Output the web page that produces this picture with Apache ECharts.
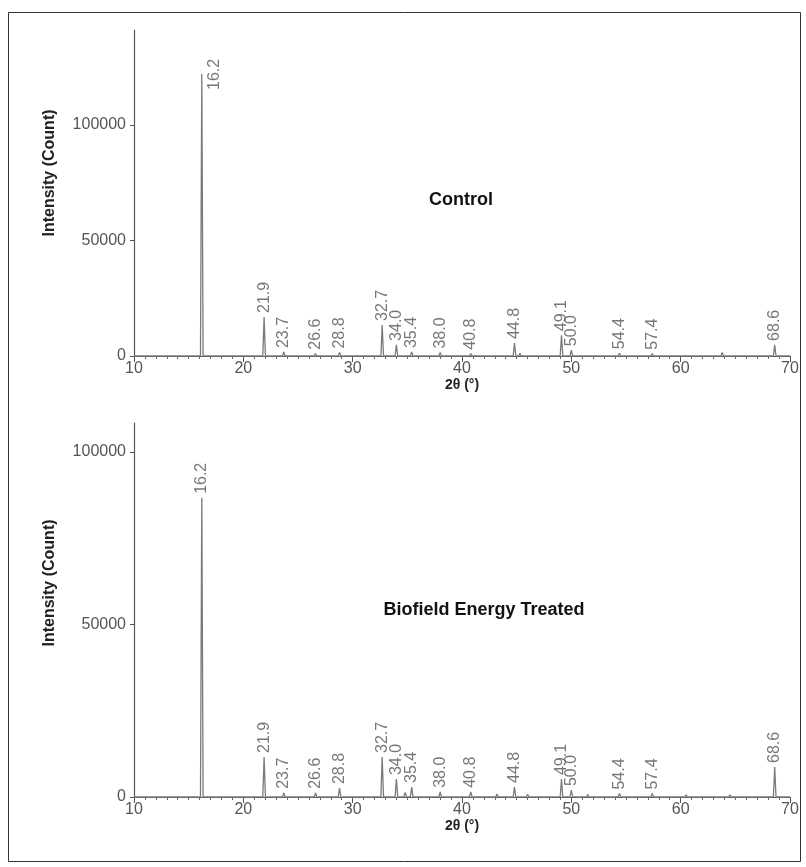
<!DOCTYPE html>
<html>
<head>
<meta charset="utf-8">
<script src="https://cdn.jsdelivr.net/npm/echarts@6/dist/echarts.min.js"></script>
<style>
  html, body { margin: 0; padding: 0; background: #fff; }
  #xrd-box { width: 806px; height: 867px; }
</style>
</head>
<body>
<div id="xrd-box"></div>
<script>
// labelled peaks (2θ, degrees) and their intensities
const peakPos = [16.2, 21.9, 23.7, 26.6, 28.8, 32.7, 34.0, 35.4, 38.0, 40.8, 44.8, 49.1, 50.0, 54.4, 57.4, 68.6];
const controlPeaks = [122000, 16900, 1700, 1000, 1500, 13400, 4800, 1700, 1500, 1000, 5600, 9000, 2500, 1200, 1000, 4800];
const treatedPeaks = [86700, 11600, 1200, 1200, 2600, 11600, 5200, 2900, 1500, 1500, 2900, 5200, 2000, 1000, 1000, 8700];
// small unlabelled bumps
const controlMinorPos = [45.3, 63.8];
const controlMinor = [1200, 1500];
const treatedMinorPos = [34.8, 43.2, 46.0, 51.5, 60.5, 64.5];
const treatedMinor = [1300, 900, 800, 700, 600, 600];
const yTicks = [0, 50000, 100000];

const HALF = 0.12;

function _zip(a, b) { return a.map((v, i) => [v, b[i]]); }

const buildTrace = (pos, vals, mPos, mVals) => {
  let pk = _zip(pos, vals).concat(_zip(mPos, mVals));
  pk.sort((a, b) => a[0] - b[0]);
  let pts = [[10, 0]];
  pk.forEach(([x, h]) => {
    pts.push([x - HALF, 0]);
    pts.push([x, h]);
    pts.push([x + HALF, 0]);
  });
  pts.push([70, 0]);
  return pts;
};

const xAxisBase = (gridIndex) => ({
  type: 'value',
  gridIndex,
  min: 10,
  max: 70,
  interval: 10,
  name: '2θ (°)',
  nameLocation: 'middle',
  nameGap: 22,
  nameTextStyle: { color: '#222', fontWeight: 'bold', fontSize: 14, fontFamily: 'Liberation Sans' },
  axisLine: { lineStyle: { color: '#555', width: 1.2 } },
  axisTick: { length: 6, lineStyle: { color: '#555' } },
  minorTick: { show: true, splitNumber: 10, length: 3, lineStyle: { color: '#666' } },
  splitLine: { show: false },
  axisLabel: { color: '#555', fontSize: 16, margin: 5, fontFamily: 'Liberation Sans' }
});

const yAxisBase = (gridIndex, max) => ({
  type: 'value',
  gridIndex,
  min: 0,
  max,
  axisLine: { show: true, lineStyle: { color: '#555', width: 1.2 } },
  axisTick: { show: true, length: 4, customValues: yTicks, lineStyle: { color: '#555' } },
  splitLine: { show: false },
  axisLabel: {
    color: '#555', fontSize: 16, margin: 8, customValues: yTicks, fontFamily: 'Liberation Sans',
    formatter: v => String(v)
  }
});

const labelSeries = (idx, vals, firstOffset) => ({
  type: 'scatter',
  xAxisIndex: idx,
  yAxisIndex: idx,
  symbolSize: 0,
  silent: true,
  data: peakPos.map((p, i) => {
    let item = { value: [p, vals[i]] };
    if (i === 0 && firstOffset) item.label = { offset: firstOffset };
    return item;
  }),
  label: {
    show: true,
    position: 'top',
    distance: 4,
    rotate: 90,
    align: 'left',
    verticalAlign: 'middle',
    color: '#555',
    fontSize: 16,
    fontFamily: 'Liberation Sans',
    formatter: p => p.value[0].toFixed(1)
  }
});

const traceSeries = (idx, data) => ({
  type: 'line',
  xAxisIndex: idx,
  yAxisIndex: idx,
  symbol: 'none',
  silent: true,
  lineStyle: { color: '#7a7a7a', width: 1.3 },
  data
});

const option = {
  animation: false,
  backgroundColor: '#fff',
  grid: [
    { left: 134, right: 16, top: 30, bottom: 511 },
    { left: 134, right: 16, top: 423, bottom: 70 }
  ],
  xAxis: [xAxisBase(0), xAxisBase(1)],
  yAxis: [yAxisBase(0, 141000), yAxisBase(1, 108400)],
  series: [
    traceSeries(0, buildTrace(peakPos, controlPeaks, controlMinorPos, controlMinor)),
    traceSeries(1, buildTrace(peakPos, treatedPeaks, treatedMinorPos, treatedMinor)),
    labelSeries(0, controlPeaks, [-20, 13]),
    labelSeries(1, treatedPeaks, null)
  ],
  graphic: [
    { type: 'rect', shape: { x: 8.5, y: 12.5, width: 792, height: 849 }, style: { fill: 'none', stroke: '#333', lineWidth: 1 } },
    { type: 'text', x: 50, y: 173, rotation: Math.PI / 2,
      style: { text: 'Intensity (Count)', fill: '#222', font: 'bold 16px "Liberation Sans"', align: 'center', verticalAlign: 'middle' } },
    { type: 'text', x: 50, y: 583, rotation: Math.PI / 2,
      style: { text: 'Intensity (Count)', fill: '#222', font: 'bold 16px "Liberation Sans"', align: 'center', verticalAlign: 'middle' } },
    { type: 'text', x: 461, y: 200,
      style: { text: 'Control', fill: '#111', font: 'bold 18px "Liberation Sans"', align: 'center', verticalAlign: 'middle' } },
    { type: 'text', x: 484, y: 610,
      style: { text: 'Biofield Energy Treated', fill: '#111', font: 'bold 18px "Liberation Sans"', align: 'center', verticalAlign: 'middle' } }
  ]
};

let myChart = echarts.init(document.getElementById('xrd-box'));
myChart.setOption(option);
</script>
</body>
</html>
